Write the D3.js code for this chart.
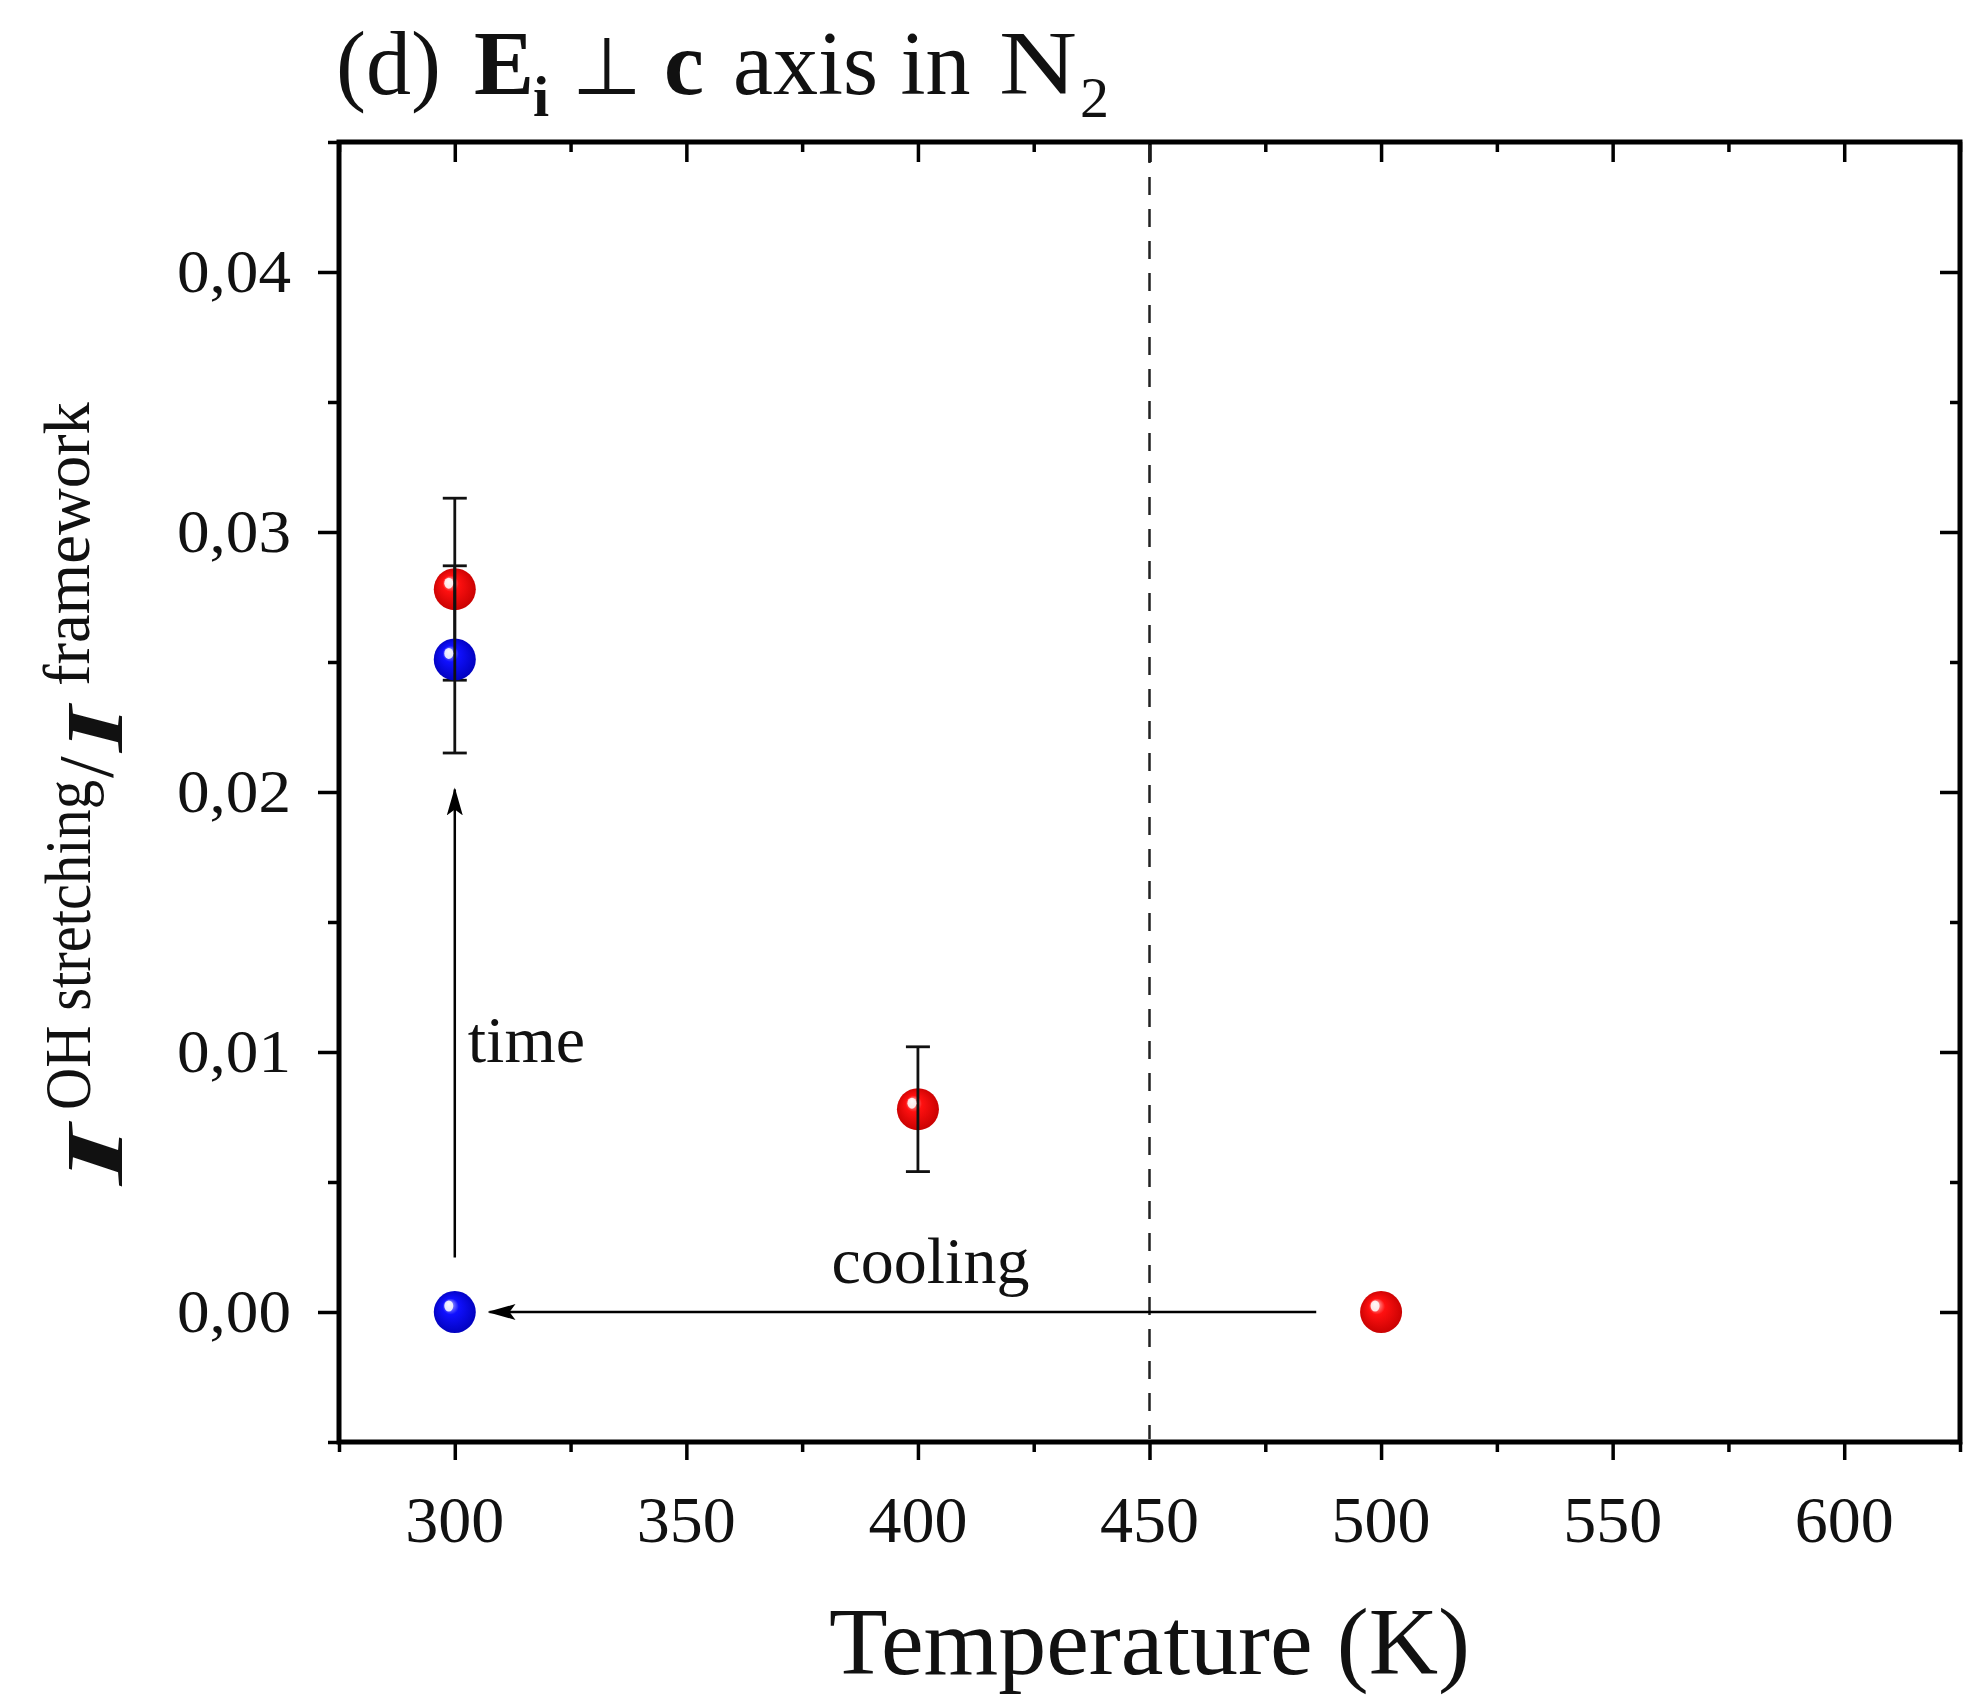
<!DOCTYPE html>
<html>
<head>
<meta charset="utf-8">
<script src="https://cdn.jsdelivr.net/npm/d3@7"></script>
<style>
  html, body { margin: 0; padding: 0; background: #fff; }
  svg { display: block; }
  text { font-family: "Liberation Serif", "Times New Roman", serif; fill: #111; }
</style>
</head>
<body>
<svg id="chart" width="1966" height="1698"></svg>
<script>
// ---- data ----
const redTemps  = [500, 400, 300];
const redVals   = [0.0000, 0.0078, 0.0278];
const redErrs   = [0.0000, 0.0024, 0.0035];
const blueTemps = [300, 300];
const blueVals  = [0.0000, 0.0251];
const blueErrs  = [0.0000, 0.0036];
const xTickVals = [300, 350, 400, 450, 500, 550, 600];
const yTickVals = [0.00, 0.01, 0.02, 0.03, 0.04];
const yTickLabels = ["0,00", "0,01", "0,02", "0,03", "0,04"];
const xDomain = [275, 625];
const yDomain = [-0.005, 0.045];
const refLineT = [450];
const timeArrow = [300, 0.0021, 300, 0.0201];
const coolArrow = [486, 0.0000, 307.5, 0.0000];
const annoTexts = ["time", "cooling"];
const annoPos = [[302.8, 0.0096], [402.7, 0.0011]];

// ---- layout ----
const L = 339, R = 1960, T = 142, B = 1442;
const svg = d3.select("#chart");
const x = d3.scaleLinear().domain(xDomain).range([L, R]);
const y = d3.scaleLinear().domain(yDomain).range([B, T]);

const defs = svg.append("defs");
function ballGrad(id, hi, mid, edge) {
  const g = defs.append("radialGradient").attr("id", id)
    .attr("cx", "50%").attr("cy", "50%").attr("r", "55%")
    .attr("fx", "35%").attr("fy", "30%");
  g.append("stop").attr("offset", "0%").attr("stop-color", hi);
  g.append("stop").attr("offset", "35%").attr("stop-color", mid);
  g.append("stop").attr("offset", "100%").attr("stop-color", edge);
}
ballGrad("gRed", "#ffd8d8", "#ff1010", "#c40000");
ballGrad("gBlue", "#d0d0ff", "#1010ff", "#0000b8");

defs.append("marker").attr("id", "ah")
  .attr("viewBox", "0 0 28 18").attr("refX", 26).attr("refY", 9)
  .attr("markerWidth", 28).attr("markerHeight", 18)
  .attr("markerUnits", "userSpaceOnUse").attr("orient", "auto")
  .append("path").attr("d", "M0,1 L28,9 L0,17 L6,9 Z").attr("fill", "#000");

// ---- axes with ticks ----
const xMinor = d3.range(275, 626, 25).filter(v => !xTickVals.includes(v));
const yMinor = d3.range(-0.005, 0.0451, 0.005).map(v => +v.toFixed(3))
  .filter(v => !yTickVals.some(t => Math.abs(t - v) < 1e-9));

svg.append("g").attr("transform", `translate(0,${B})`)
  .call(d3.axisBottom(x).tickValues(xTickVals).tickSize(18).tickFormat(""));
svg.append("g").attr("transform", `translate(0,${B})`)
  .call(d3.axisBottom(x).tickValues(xMinor).tickSize(10).tickFormat(""));
svg.append("g").attr("transform", `translate(0,${T})`)
  .call(d3.axisBottom(x).tickValues(xTickVals).tickSize(20).tickFormat(""));
svg.append("g").attr("transform", `translate(0,${T})`)
  .call(d3.axisBottom(x).tickValues(xMinor).tickSize(10).tickFormat(""));
svg.append("g").attr("transform", `translate(${L},0)`)
  .call(d3.axisLeft(y).tickValues(yTickVals).tickSize(21).tickFormat(""));
svg.append("g").attr("transform", `translate(${L},0)`)
  .call(d3.axisLeft(y).tickValues(yMinor).tickSize(11).tickFormat(""));
svg.append("g").attr("transform", `translate(${R},0)`)
  .call(d3.axisLeft(y).tickValues(yTickVals).tickSize(20).tickFormat(""));
svg.append("g").attr("transform", `translate(${R},0)`)
  .call(d3.axisLeft(y).tickValues(yMinor).tickSize(10).tickFormat(""));
svg.selectAll(".domain").remove();
svg.selectAll(".tick line").attr("stroke", "#000").attr("stroke-width", 3.5);

// tick labels
svg.append("g").selectAll("text").data(xTickVals).join("text")
  .attr("x", d => x(d)).attr("y", 1542)
  .attr("text-anchor", "middle").attr("font-size", 66)
  .text(d => d);
svg.append("g").selectAll("text").data(yTickVals).join("text")
  .attr("x", 291).attr("y", d => y(d) + 20)
  .attr("text-anchor", "end").attr("font-size", 62)
  .attr("textLength", 114).attr("lengthAdjust", "spacingAndGlyphs")
  .text((d, i) => yTickLabels[i]);

// frame
svg.append("rect").attr("x", L).attr("y", T).attr("width", R - L).attr("height", B - T)
  .attr("fill", "none").attr("stroke", "#000").attr("stroke-width", 5);

// reference dashed line
svg.append("g").selectAll("line").data(refLineT).join("line")
  .attr("x1", d => x(d)).attr("x2", d => x(d)).attr("y1", T + 3).attr("y2", B - 3)
  .attr("stroke", "#222").attr("stroke-width", 2.5).attr("stroke-dasharray", "18 14");

// arrows
[timeArrow, coolArrow].forEach(a => {
  svg.append("line")
    .attr("x1", x(a[0])).attr("y1", y(a[1])).attr("x2", x(a[2])).attr("y2", y(a[3]))
    .attr("stroke", "#000").attr("stroke-width", 2.5).attr("marker-end", "url(#ah)");
});

// annotation texts
svg.append("g").selectAll("text").data(annoTexts).join("text")
  .attr("x", (d, i) => x(annoPos[i][0])).attr("y", (d, i) => y(annoPos[i][1]))
  .attr("text-anchor", (d, i) => i === 0 ? "start" : "middle")
  .attr("font-size", 66).text(d => d);

// data series
function drawSeries(ts, vs, es, grad) {
  const data = ts.map((t, i) => ({ t, v: vs[i], e: es[i] }));
  const g = svg.append("g");
  g.selectAll("circle").data(data).join("circle")
    .attr("cx", d => x(d.t)).attr("cy", d => y(d.v)).attr("r", 21)
    .attr("fill", `url(#${grad})`);
  const eb = g.selectAll("g.eb").data(data.filter(d => d.e > 0)).join("g").attr("class", "eb");
  eb.append("line").attr("x1", d => x(d.t)).attr("x2", d => x(d.t))
    .attr("y1", d => y(d.v + d.e)).attr("y2", d => y(d.v - d.e))
    .attr("stroke", "#111").attr("stroke-width", 2.8);
  eb.append("line").attr("x1", d => x(d.t) - 12).attr("x2", d => x(d.t) + 12)
    .attr("y1", d => y(d.v + d.e)).attr("y2", d => y(d.v + d.e))
    .attr("stroke", "#111").attr("stroke-width", 2.8);
  eb.append("line").attr("x1", d => x(d.t) - 12).attr("x2", d => x(d.t) + 12)
    .attr("y1", d => y(d.v - d.e)).attr("y2", d => y(d.v - d.e))
    .attr("stroke", "#111").attr("stroke-width", 2.8);
  g.selectAll("ellipse").data(data).join("ellipse")
    .attr("cx", d => x(d.t) - 6).attr("cy", d => y(d.v) - 6).attr("rx", 4.5).attr("ry", 5.5)
    .attr("fill", "#fff").attr("opacity", 0.85);
}
drawSeries(redTemps, redVals, redErrs, "gRed");
drawSeries(blueTemps, blueVals, blueErrs, "gBlue");

// axis title
svg.append("text").attr("x", (L + R) / 2).attr("y", 1674)
  .attr("text-anchor", "middle").attr("font-size", 96).text("Temperature (K)");

// y-axis title (rotated)
const yl = svg.append("g").attr("transform", "rotate(-90)");
yl.append("text").attr("x", -1185).attr("y", 122).attr("font-size", 80)
  .attr("font-weight", "bold").attr("font-style", "italic")
  .attr("textLength", 60).attr("lengthAdjust", "spacingAndGlyphs").text("I");
yl.append("text").attr("x", -1110).attr("y", 90).attr("font-size", 66)
  .attr("textLength", 330).attr("lengthAdjust", "spacingAndGlyphs").text("OH stretching");
yl.append("text").attr("x", -778).attr("y", 112).attr("font-size", 78).text("/");
yl.append("text").attr("x", -752).attr("y", 122).attr("font-size", 80)
  .attr("font-weight", "bold").attr("font-style", "italic")
  .attr("textLength", 46).attr("lengthAdjust", "spacingAndGlyphs").text("I");
yl.append("text").attr("x", -686).attr("y", 89).attr("font-size", 66)
  .attr("textLength", 284).attr("lengthAdjust", "spacingAndGlyphs").text("framework");

// title (separate pieces)
const tg = svg.append("g").attr("font-size", 90);
function tpiece(xp, yp, str, opts) {
  const t = tg.append("text").attr("x", xp).attr("y", yp).text(str);
  Object.entries(opts || {}).forEach(([k, v]) => t.attr(k, v));
  return t;
}
tpiece(336, 94, "(d)");
tpiece(474, 94, "E", { "font-weight": "bold" });
tpiece(533, 116, "i", { "font-weight": "bold", "font-size": 58 });
tpiece(572, 94, "\u22A5", { "font-family": "DejaVu Serif", "font-size": 80 });
tpiece(664, 94, "c", { "font-weight": "bold" });
tpiece(733, 94, "axis in");
tpiece(999, 94, "N", { "textLength": 78, "lengthAdjust": "spacingAndGlyphs" });
tpiece(1080, 117, "2", { "font-size": 58 });
</script>
</body>
</html>
